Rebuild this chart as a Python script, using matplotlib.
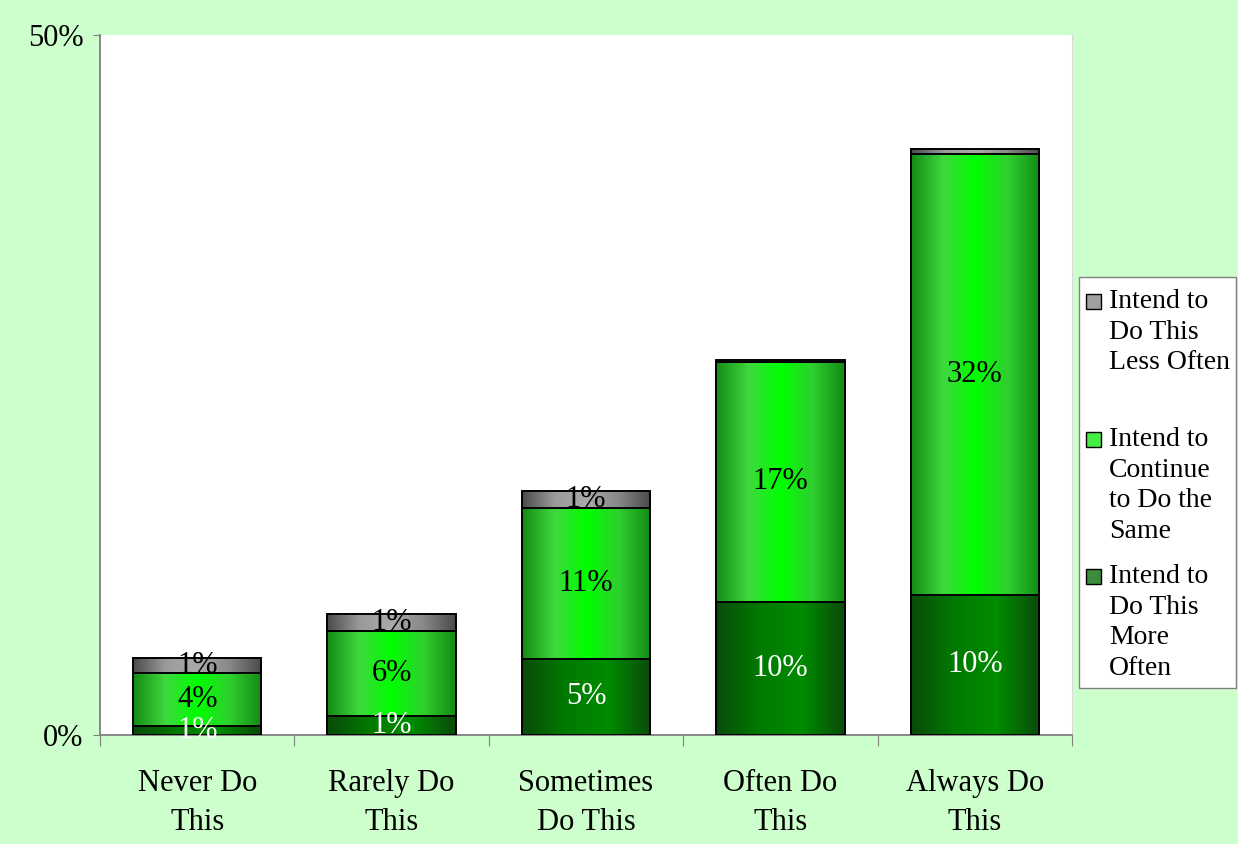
import matplotlib
matplotlib.use('Agg')
import matplotlib.pyplot as plt
import matplotlib.patches as mpatches
from matplotlib.colors import LinearSegmentedColormap
import numpy as np

categories = ['Never Do\nThis', 'Rarely Do\nThis', 'Sometimes\nDo This', 'Often Do\nThis', 'Always Do\nThis']
more_often = [0.6, 1.3, 5.4, 9.5, 10.0]
same = [3.8, 6.1, 10.8, 17.1, 31.5]
less_often = [1.1, 1.2, 1.2, 0.15, 0.36]

series = [
    ('Intend to\nDo This\nMore\nOften', more_often, ['#0a4a0a', '#007a00', '#008c00', '#0a4a0a'], '#3c8c3c', 'white'),
    ('Intend to\nContinue\nto Do the\nSame', same, ['#138a13', '#3ed83e', '#00ff00', '#2fcf2f', '#138a13'], '#44ee44', 'black'),
    ('Intend to\nDo This\nLess Often', less_often, ['#4a4a4a', '#9a9a9a', '#aaaaaa', '#888888', '#4a4a4a'], '#a0a0a0', 'black'),
]

plt.rcParams['font.family'] = ['Liberation Serif', 'DejaVu Serif']

W, H = 1238, 844
fig = plt.figure(figsize=(W/100, H/100), dpi=100, facecolor='#ccffcc')
ax = fig.add_axes([100/W, 1-734.5/H, 972/W, 699.5/H])
ax.set_facecolor('white')

x = np.arange(len(categories))
width = 0.66
bottom = np.zeros(len(categories))
grad = np.linspace(0, 1, 256).reshape(1, -1)
for label, vals, cols, legcol, txtcol in series:
    cmap = LinearSegmentedColormap.from_list('g', cols)
    bars = ax.bar(x, vals, width, bottom=bottom, facecolor='none',
                  edgecolor='black', linewidth=1.4, zorder=3)
    for b, v in zip(bars, vals):
        x0, y0 = b.get_x(), b.get_y()
        im = ax.imshow(grad, cmap=cmap, aspect='auto', zorder=2,
                       extent=[x0, x0 + b.get_width(), y0, y0 + b.get_height()])
        im.set_clip_path(b)
        if v >= 0.5:
            ax.text(x0 + b.get_width()/2, y0 + v/2, f'{v:.0f}%', ha='center', va='center',
                    fontsize=22, color=txtcol, zorder=4)
    bottom += np.array(vals)

ax.set_xlim(-0.5, len(categories) - 0.5)
ax.set_ylim(0, 50)
ax.set_yticks([0, 50])
ax.set_yticklabels(['0%', '50%'], fontsize=22)
ax.set_xticks(np.arange(-0.5, len(categories)), minor=False)
ax.set_xticklabels([])
ax.set_xticks(x, minor=True)
ax.set_xticklabels(categories, minor=True, fontsize=22, linespacing=1.45)
ax.tick_params(axis='x', which='minor', length=0, pad=25)
ax.tick_params(axis='x', which='major', length=8, color='#808080', direction='out')
ax.tick_params(axis='y', length=5, color='#808080', direction='out', pad=7)
for s in ['left', 'bottom']:
    ax.spines[s].set_color('#808080')
    ax.spines[s].set_linewidth(1.3)
ax.spines['top'].set_visible(False)
ax.spines['right'].set_color('#d8d8d8')
ax.spines['right'].set_linewidth(0.8)

# legend box drawn by hand, marker beside the first line of each label
fig.patches.append(mpatches.Rectangle((1079/W, 1-688/H), 157/W, 411/H, transform=fig.transFigure,
                                      facecolor='white', edgecolor='#808080', linewidth=1))
leg_tops = [289, 427, 564]
for (label, vals, cols, legcol, txtcol), ytop in zip(series[::-1], leg_tops):
    fig.patches.append(mpatches.Rectangle((1086/W, 1-(ytop+20)/H), 15/W, 15/H, transform=fig.transFigure,
                                          facecolor=legcol, edgecolor='black', linewidth=1))
    fig.text(1109/W, 1-ytop/H, label, fontsize=20, va='top', ha='left', linespacing=1.3,
             transform=fig.transFigure)

fig.savefig('out.png', dpi=100, facecolor=fig.get_facecolor())
